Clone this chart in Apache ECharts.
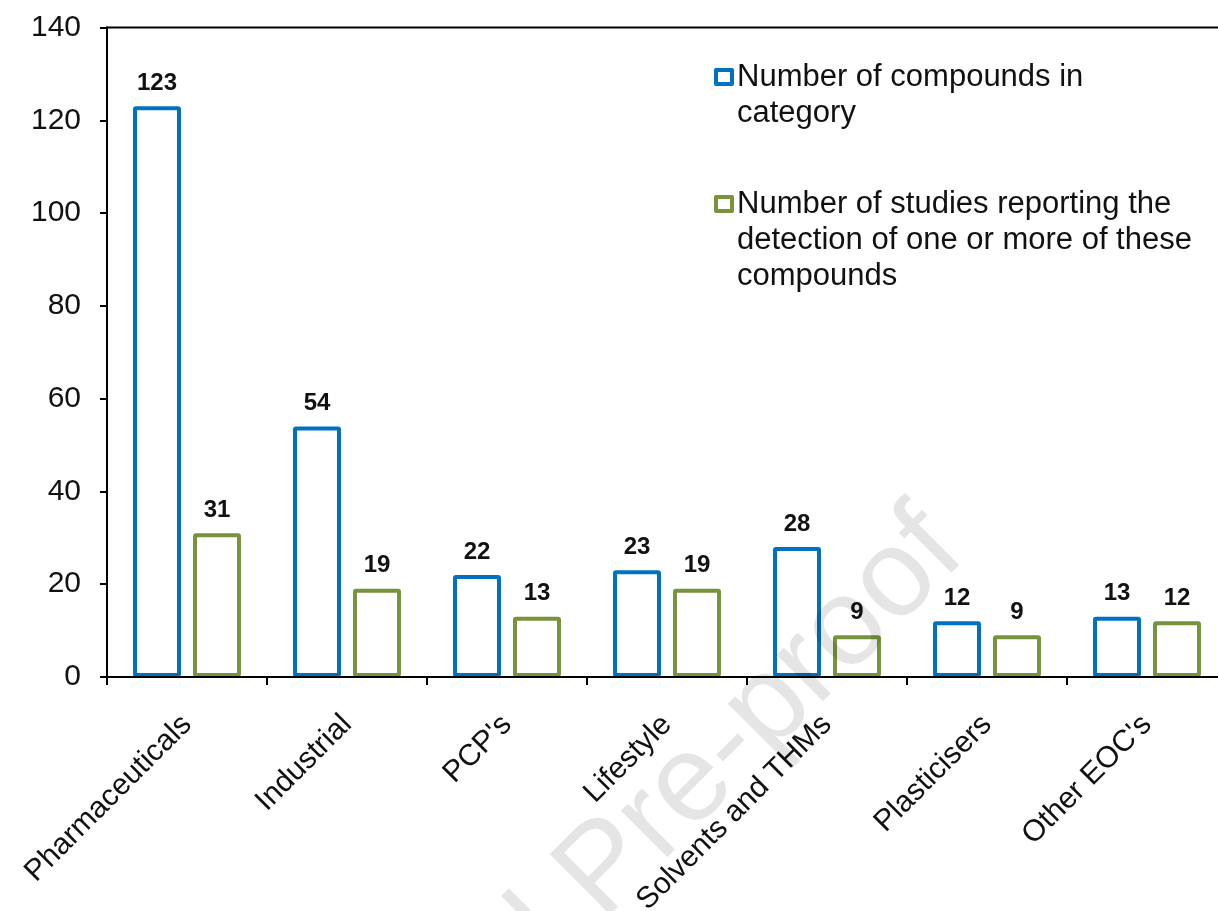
<!DOCTYPE html>
<html>
<head>
<meta charset="utf-8">
<script src="https://cdn.jsdelivr.net/npm/echarts@6/dist/echarts.min.js"></script>
<style>
  html, body { margin: 0; padding: 0; background: #fff; overflow: hidden; }
  #chart { width: 1218px; height: 911px; }
</style>
</head>
<body>
<div id="chart"></div>
<script>
// Compound categories along the x axis
const categories = ['Pharmaceuticals', 'Industrial', "PCP's", 'Lifestyle', 'Solvents and THMs', 'Plasticisers', "Other EOC's"];
// Number of compounds in each category
const compoundCounts = [123, 54, 22, 23, 28, 12, 13];
// Number of studies reporting detection of at least one compound of the category
const studyCounts = [31, 19, 13, 19, 9, 9, 12];
// Y axis range and step
const yMin = 0, yMax = 140, yStep = 20;

const seriesNames = ['Number of compounds in category', 'Number of studies reporting the detection of one or more of these compounds'];
// Wrapped legend lines for each series
const legendLines = {
  [seriesNames[0]]: ['Number of compounds in', 'category'],
  [seriesNames[1]]: ['Number of studies reporting the', 'detection of one or more of these', 'compounds']
};

const FONT = "'Liberation Sans', Arial, sans-serif";
const BLUE = '#0070C0';
const GREEN = '#77933C';
const LH = 36;

const chart = echarts.init(document.getElementById('chart'), null, { renderer: 'canvas' });

// Legend text is centred on its icon, so blank lines are put above the
// wrapped text to keep the icon level with the first line.
function legendLabel(name) {
  const lines = legendLines[name];
  return new Array(lines.length - 1).fill(' ').concat(lines).join('\n');
}

function legendFor(name, top, color) {
  return {
    data: [name],
    left: 714,
    top: top,
    padding: 0,
    orient: 'vertical',
    icon: 'rect',
    itemWidth: 16,
    itemHeight: 14,
    selectedMode: false,
    itemStyle: { color: '#fff', borderColor: color, borderWidth: 4 },
    formatter: legendLabel,
    textStyle: {
      fontFamily: FONT,
      fontSize: 31,
      color: '#111',
      lineHeight: LH
    }
  };
}

const barLabel = {
  show: true,
  position: 'top',
  distance: 11,
  fontFamily: FONT,
  fontSize: 24,
  fontWeight: 'bold',
  color: '#111'
};

chart.setOption({
  animation: false,
  backgroundColor: '#fff',
  grid: {
    left: 107,
    top: 27.5,
    right: -9,
    bottom: 234,
    outerBoundsMode: 'none',
    containLabel: false,
    show: true,
    borderColor: '#000',
    borderWidth: 2,
    backgroundColor: 'transparent'
  },
  legend: [
    legendFor(seriesNames[0], 23, BLUE),
    legendFor(seriesNames[1], 114, GREEN)
  ],
  xAxis: {
    type: 'category',
    data: categories,
    z: 10,
    axisLine: { lineStyle: { color: '#000', width: 2 } },
    axisTick: { show: true, length: 8, lineStyle: { color: '#000', width: 2 } },
    axisLabel: {
      rotate: 45,
      margin: 43,
      verticalAlign: 'middle',
      fontFamily: FONT,
      fontSize: 30,
      color: '#111',
      interval: 0
    }
  },
  yAxis: {
    type: 'value',
    min: yMin,
    max: yMax,
    interval: yStep,
    axisLine: { show: true, lineStyle: { color: '#000', width: 2 } },
    axisTick: { show: true, inside: false, length: 7, lineStyle: { color: '#000', width: 2 } },
    splitLine: { show: false },
    axisLabel: {
      margin: 26,
      fontFamily: FONT,
      fontSize: 30,
      color: '#111'
    }
  },
  series: [
    {
      name: seriesNames[0],
      type: 'bar',
      data: compoundCounts,
      barWidth: 48,
      barGap: '25%',
      itemStyle: { color: '#fff', borderColor: BLUE, borderWidth: 4, borderRadius: 1, borderJoin: 'round' },
      label: barLabel
    },
    {
      name: seriesNames[1],
      type: 'bar',
      data: studyCounts,
      barWidth: 48,
      barGap: '25%',
      itemStyle: { color: '#fff', borderColor: GREEN, borderWidth: 4, borderRadius: 1, borderJoin: 'round' },
      label: barLabel
    }
  ],
  graphic: [
    {
      type: 'text',
      silent: true,
      z: 100,
      x: 944,
      y: 532,
      rotation: Math.PI / 4,
      style: {
        text: 'Journal Pre-proof',
        fontFamily: FONT,
        fontSize: 124,
        fill: 'rgba(0,0,0,0.1)',
        align: 'right',
        verticalAlign: 'middle'
      }
    }
  ]
});
</script>
</body>
</html>
